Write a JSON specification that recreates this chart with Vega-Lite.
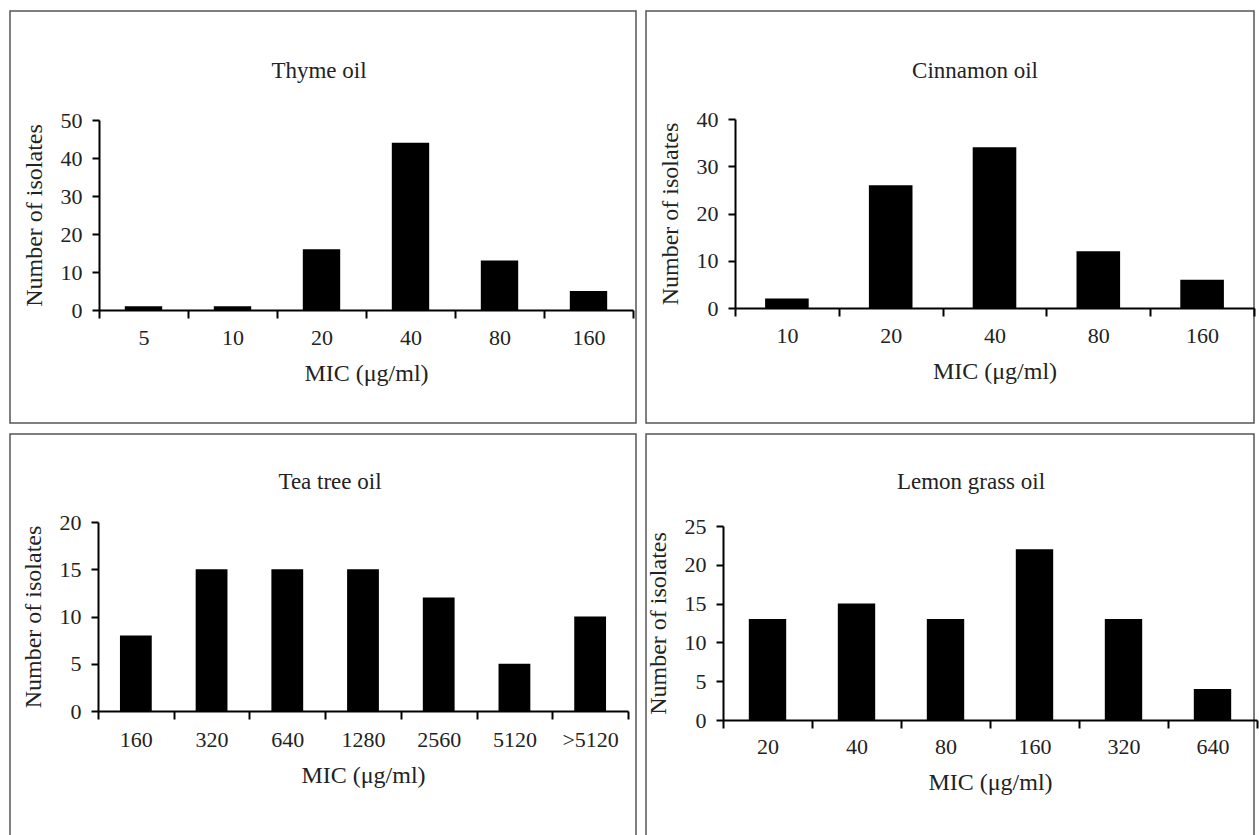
{
  "$schema": "https://vega.github.io/schema/vega-lite/v6.json",
  "padding": {"left": 9, "top": 10, "right": 0, "bottom": 0},
  "background": "white",
  "datasets": {
    "thyme": [{"mic": "5", "n": 1}, {"mic": "10", "n": 1}, {"mic": "20", "n": 16}, {"mic": "40", "n": 44}, {"mic": "80", "n": 13}, {"mic": "160", "n": 5}],
    "cinnamon": [{"mic": "10", "n": 2}, {"mic": "20", "n": 26}, {"mic": "40", "n": 34}, {"mic": "80", "n": 12}, {"mic": "160", "n": 6}],
    "teatree": [{"mic": "160", "n": 8}, {"mic": "320", "n": 15}, {"mic": "640", "n": 15}, {"mic": "1280", "n": 15}, {"mic": "2560", "n": 12}, {"mic": "5120", "n": 5}, {"mic": ">5120", "n": 10}],
    "lemongrass": [{"mic": "20", "n": 13}, {"mic": "40", "n": 15}, {"mic": "80", "n": 13}, {"mic": "160", "n": 22}, {"mic": "320", "n": 13}, {"mic": "640", "n": 4}]
  },
  "config": {
    "view": {"stroke": "#555555", "strokeWidth": 1.5},
    "font": "Liberation Serif",
    "axis": {"grid": false, "domainColor": "black", "domainWidth": 2, "tickColor": "black", "tickWidth": 2, "labelFont": "Liberation Serif", "labelFontSize": 22, "labelColor": "#222222", "titleFont": "Liberation Serif", "titleFontSize": 24, "titleFontWeight": "normal", "titleColor": "#222222"},
    "title": {"font": "Liberation Serif", "fontSize": 23, "fontWeight": "normal", "color": "#222222", "anchor": "middle", "orient": "top"}
  },
  "spacing": 9,
  "vconcat": [
    {
      "spacing": 8,
      "hconcat": [
        {
          "width": 626, "height": 412,
          "data": {"name": "thyme"},
          "title": {"text": "Thyme oil", "offset": -72, "dx": -4},
          "mark": {"type": "bar", "color": "black", "width": {"band": 0.42}},
          "encoding": {
            "x": {"field": "mic", "type": "nominal", "sort": null, "scale": {"range": [89, 623], "paddingInner": 0, "paddingOuter": 0}, "axis": {"title": "MIC (μg/ml)", "labelAngle": 0, "offset": -113, "tickBand": "extent", "tickSize": 8, "labelPadding": 9, "titlePadding": 13}},
            "y": {"field": "n", "type": "quantitative", "scale": {"domain": [0, 50], "range": [299, 109], "nice": false}, "axis": {"title": "Number of isolates", "values": [0, 10, 20, 30, 40, 50], "offset": -89, "tickSize": 7, "labelPadding": 10, "titlePadding": 14}}
          }
        },
        {
          "width": 608, "height": 412,
          "data": {"name": "cinnamon"},
          "title": {"text": "Cinnamon oil", "offset": -72, "dx": 25},
          "mark": {"type": "bar", "color": "black", "width": {"band": 0.42}},
          "encoding": {
            "x": {"field": "mic", "type": "nominal", "sort": null, "scale": {"range": [89, 608], "paddingInner": 0, "paddingOuter": 0}, "axis": {"title": "MIC (μg/ml)", "labelAngle": 0, "offset": -115, "tickBand": "extent", "tickSize": 8, "labelPadding": 9, "titlePadding": 13}},
            "y": {"field": "n", "type": "quantitative", "scale": {"domain": [0, 40], "range": [297, 108], "nice": false}, "axis": {"title": "Number of isolates", "values": [0, 10, 20, 30, 40], "offset": -89, "tickSize": 7, "labelPadding": 10, "titlePadding": 14}}
          }
        }
      ]
    },
    {
      "spacing": 8,
      "hconcat": [
        {
          "width": 626, "height": 412,
          "data": {"name": "teatree"},
          "title": {"text": "Tea tree oil", "offset": -60, "dx": 7},
          "mark": {"type": "bar", "color": "black", "width": {"band": 0.42}},
          "encoding": {
            "x": {"field": "mic", "type": "nominal", "sort": null, "scale": {"range": [88, 618], "paddingInner": 0, "paddingOuter": 0}, "axis": {"title": "MIC (μg/ml)", "labelAngle": 0, "offset": -135, "tickBand": "extent", "tickSize": 8, "labelPadding": 10, "titlePadding": 13}},
            "y": {"field": "n", "type": "quantitative", "scale": {"domain": [0, 20], "range": [277, 88], "nice": false}, "axis": {"title": "Number of isolates", "values": [0, 5, 10, 15, 20], "offset": -88, "tickSize": 7, "labelPadding": 10, "titlePadding": 14}}
          }
        },
        {
          "width": 608, "height": 412,
          "data": {"name": "lemongrass"},
          "title": {"text": "Lemon grass oil", "offset": -60, "dx": 21},
          "mark": {"type": "bar", "color": "black", "width": {"band": 0.42}},
          "encoding": {
            "x": {"field": "mic", "type": "nominal", "sort": null, "scale": {"range": [77, 611], "paddingInner": 0, "paddingOuter": 0}, "axis": {"title": "MIC (μg/ml)", "labelAngle": 0, "offset": -126, "tickBand": "extent", "tickSize": 8, "labelPadding": 8, "titlePadding": 13}},
            "y": {"field": "n", "type": "quantitative", "scale": {"domain": [0, 25], "range": [286, 92], "nice": false}, "axis": {"title": "Number of isolates", "values": [0, 5, 10, 15, 20, 25], "offset": -77, "tickSize": 7, "labelPadding": 10, "titlePadding": 14}}
          }
        }
      ]
    }
  ]
}
